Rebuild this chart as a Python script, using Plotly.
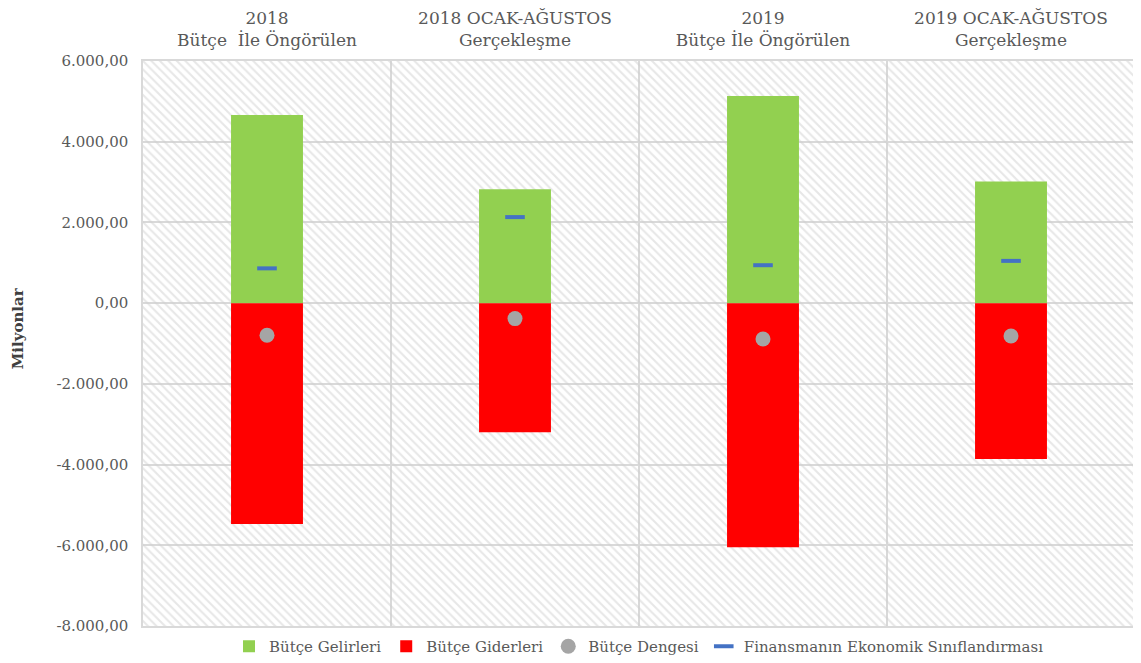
import plotly.graph_objects as go

categories = [
    "2018<br>Bütçe \u00a0İle Öngörülen",
    "2018 OCAK-AĞUSTOS<br>Gerçekleşme",
    "2019<br>Bütçe İle Öngörülen",
    "2019 OCAK-AĞUSTOS<br>Gerçekleşme",
]
butce_gelirleri = [4665, 2822, 5135, 3017]
butce_giderleri = [-5470, -3198, -6050, -3860]
butce_dengesi = [-797, -383, -888, -815]
finansman = [862, 2132, 940, 1047]

y_min, y_max = -8000, 6000
tick_vals = [-8000, -6000, -4000, -2000, 0, 2000, 4000, 6000]
tick_text = ["-8.000,00", "-6.000,00", "-4.000,00", "-2.000,00", "0,00",
             "2.000,00", "4.000,00", "6.000,00"]

FONT = "DejaVu Serif"
TXT = "#595959"
GRID = "#d9d9d9"

fig = go.Figure()

# hatched plot-area background
fig.add_trace(go.Bar(
    x=categories, y=[y_max - y_min] * len(categories), base=[y_min] * len(categories),
    width=1, showlegend=False, hoverinfo="skip",
    marker=dict(color="rgba(0,0,0,0)", line=dict(width=0),
                pattern=dict(shape="\\", fgcolor="#cfcfcf", bgcolor="rgba(0,0,0,0)",
                             size=6, solidity=0.35)),
))

fig.add_trace(go.Bar(
    x=categories, y=butce_gelirleri, name="Bütçe Gelirleri", width=0.29,
    marker=dict(color="#92d050", line=dict(width=0)),
))
fig.add_trace(go.Bar(
    x=categories, y=butce_giderleri, name="Bütçe Giderleri", width=0.29,
    marker=dict(color="#ff0000", line=dict(width=0)),
))
fig.add_trace(go.Scatter(
    x=categories, y=butce_dengesi, name="Bütçe Dengesi", mode="markers",
    marker=dict(color="#a5a5a5", size=15, symbol="circle"),
))
fig.add_trace(go.Scatter(
    x=categories, y=finansman, name="Finansmanın Ekonomik Sınıflandırması", mode="markers",
    marker=dict(color="#4472c4", size=14, symbol="line-ew",
                line=dict(color="#4472c4", width=4)),
))

fig.update_layout(
    width=1133, height=655,
    margin=dict(l=135, r=6, t=53, b=37),
    paper_bgcolor="white", plot_bgcolor="white",
    barmode="overlay",
    font=dict(family=FONT, size=15, color=TXT),
    legend=dict(orientation="h", x=0.5, xanchor="center",
                yref="container", y=0.0, yanchor="bottom",
                font=dict(family=FONT, size=15, color=TXT), itemwidth=30,
                traceorder="normal"),
    xaxis=dict(
        side="top", type="category", tickson="boundaries", range=[-0.5, 3.5],
        showgrid=True, gridcolor=GRID, gridwidth=1.5, automargin=False,
        showline=True, linecolor=GRID, linewidth=1.5, mirror=True,
        ticks="", ticklabelstandoff=6,
        tickfont=dict(family=FONT, size=17, color=TXT),
    ),
    yaxis=dict(
        range=[y_min, y_max], tickvals=tick_vals, ticktext=tick_text,
        showgrid=True, gridcolor=GRID, gridwidth=1.5, zeroline=False, automargin=False,
        showline=True, linecolor=GRID, linewidth=1.5, mirror=True,
        ticks="", ticklabelstandoff=10,
        tickfont=dict(family=FONT, size=15, color=TXT),
    ),
    annotations=[dict(
        text="<b>Milyonlar</b>", textangle=-90, showarrow=False,
        xref="paper", yref="paper", x=-0.126, y=0.527, xanchor="center", yanchor="middle",
        font=dict(family=FONT, size=15, color="#404040"),
    )],
)

fig.write_html("out.html")
